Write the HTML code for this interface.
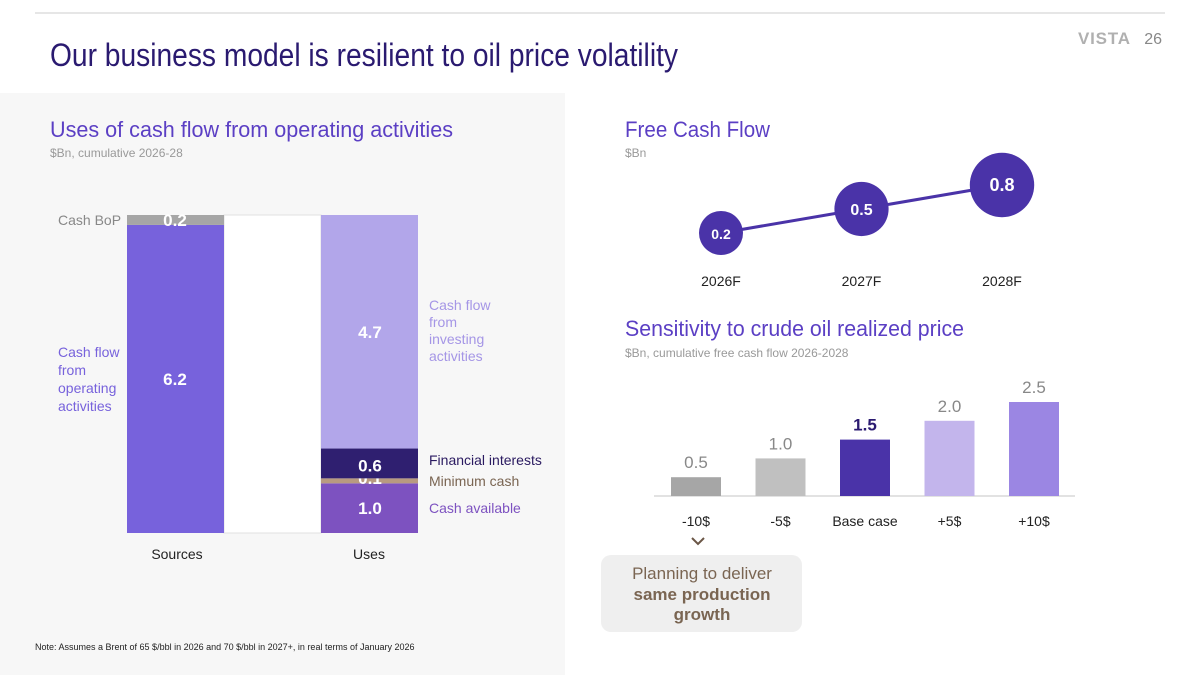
<!DOCTYPE html>
<html><head><meta charset="utf-8"><style>
html,body{margin:0;padding:0;background:#fff;}
svg{display:block;font-family:"Liberation Sans",sans-serif;}
</style></head><body>
<svg id="s" width="1200" height="675" viewBox="0 0 1200 675" xmlns="http://www.w3.org/2000/svg">
<line x1="35" y1="13" x2="1165" y2="13" stroke="#e6e6e6" stroke-width="2"/>
<text x="1130" y="44" font-size="17" font-weight="bold" fill="#b0b0b0" text-anchor="end" textLength="52">VISTA</text>
<text x="1162" y="44" font-size="16" fill="#888" text-anchor="end">26</text>
<text x="50" y="66" font-size="32" fill="#2a1a70" textLength="628" lengthAdjust="spacingAndGlyphs">Our business model is resilient to oil price volatility</text>
<rect x="0" y="93" width="565" height="582" fill="#f7f7f7"/>
<text x="50" y="137" font-size="22" fill="#5b3fc4" textLength="403" lengthAdjust="spacingAndGlyphs">Uses of cash flow from operating activities</text>
<text x="50" y="157" font-size="12" fill="#999">$Bn, cumulative 2026-28</text>
<text x="625" y="137" font-size="22" fill="#5b3fc4" textLength="145" lengthAdjust="spacingAndGlyphs">Free Cash Flow</text>
<text x="625" y="157" font-size="12" fill="#999">$Bn</text>
<text x="625" y="336" font-size="22" fill="#5b3fc4" textLength="339" lengthAdjust="spacingAndGlyphs">Sensitivity to crude oil realized price</text>
<text x="625" y="357" font-size="12" fill="#999">$Bn, cumulative free cash flow 2026-2028</text>
<g id="left"></g>
<g id="fcf"></g>
<g id="sens"></g>
<path d="M692 538 L698 544 L704 538" fill="none" stroke="#6b5646" stroke-width="2"/>
<rect x="601" y="555" width="201" height="77" rx="10" fill="#efefef"/>
<text x="702" y="579" font-size="17" fill="#7a6552" text-anchor="middle">Planning to deliver</text>
<text x="702" y="600" font-size="17" font-weight="bold" fill="#7a6552" text-anchor="middle">same production</text>
<text x="702" y="620" font-size="17" font-weight="bold" fill="#7a6552" text-anchor="middle">growth</text>
<text x="35" y="650" font-size="9" fill="#222">Note: Assumes a Brent of 65 $/bbl in 2026 and 70 $/bbl in 2027+, in real terms of January 2026</text>
</svg>
<script>
const NS="http://www.w3.org/2000/svg";
const sourceLabels=["Cash flow from operating activities","Cash BoP"];
const sourceValues=[6.2,0.2];
const useLabels=["Cash available","Minimum cash","Financial interests","Cash flow from investing activities"];
const useValues=[1.0,0.1,0.6,4.7];
const fcfYears=["2026F","2027F","2028F"];
const fcfValues=[0.2,0.5,0.8];
const sensCats=["-10$","-5$","Base case","+5$","+10$"];
const sensValues=[0.5,1.0,1.5,2.0,2.5];

function mk(p,tag,a,txt){const e=document.createElementNS(NS,tag);for(const k in a)e.setAttribute(k,a[k]);if(txt!==undefined)e.textContent=txt;p.appendChild(e);return e;}

// Left stacked chart
const L=document.getElementById('left');
const base=533, pxU=318/6.4;
const yL=v=>base-v*pxU;
const total=Math.max(sourceValues.reduce((a,b)=>a+b,0),useValues.reduce((a,b)=>a+b,0));
let w=mk(L,'rect',{x:224,y:yL(total),width:97,height:total*pxU,fill:'#fff',stroke:'#e0e0e0'});


const srcCol=['#7762dc','#a6a6a6'];
let acc=0;
sourceValues.forEach((v,i)=>{
  const r=mk(L,'rect',{x:127,y:yL(acc+v),width:97,height:v*pxU,fill:srcCol[i]});
  
  
  const t=mk(L,'text',{x:175,y:yL(acc+v/2)+6,'font-size':17,'font-weight':'bold',fill:'#fff','text-anchor':'middle'},v.toFixed(1));
  
  
  acc+=v;
});
let t1=mk(L,'text',{x:58,y:yL(acc)+10,'font-size':14,fill:'#888'},sourceLabels[1]);


["Cash flow","from","operating","activities"].forEach((s,i)=>{
  const t=mk(L,'text',{x:58,y:357+i*18,'font-size':14,fill:'#7762dc'},s);
  
  
});
const useCol=['#7d52c0','#b89a80','#2f1f70','#b2a6ea'];
acc=0;
useValues.forEach((v,i)=>{
  const r=mk(L,'rect',{x:321,y:yL(acc+v),width:97,height:v*pxU,fill:useCol[i]});
  
  
  const t=mk(L,'text',{x:370,y:yL(acc+v/2)+(i==1?3:6)+(i==2?2:0),'font-size':17,'font-weight':'bold',fill:'#fff','text-anchor':'middle'},v.toFixed(1));
  
  
  acc+=v;
});
[["Financial interests",465,'#2a1a60'],["Minimum cash",486,'#7a6552'],["Cash available",513,'#7d52c0']].forEach(a=>{
  const t=mk(L,'text',{x:429,y:a[1],'font-size':14,fill:a[2]},a[0]);
  
  
});
["Cash flow","from","investing","activities"].forEach((s,i)=>{
  const t=mk(L,'text',{x:429,y:310+i*17,'font-size':14,fill:'#a596e6'},s);
  
  
});
[["Sources",177],["Uses",369]].forEach(a=>{
  const t=mk(L,'text',{x:a[1],y:559,'font-size':14,fill:'#222','text-anchor':'middle'},a[0]);
  
  
});

// FCF bubbles
const F=document.getElementById('fcf');
const xF=i=>721+i*140.5;
const yF=v=>233-(v-0.2)*80;
const rF=v=>22+(v-0.2)*17;
const pts=fcfValues.map((v,i)=>xF(i)+','+yF(v)).join(' ');
let pl=mk(F,'polyline',{points:pts,fill:'none',stroke:'#4a33a8','stroke-width':3});


fcfValues.forEach((v,i)=>{
  const c=mk(F,'circle',{cx:xF(i),cy:yF(v),r:rF(v),fill:'#4a33a8'});
  
  
  const t=mk(F,'text',{x:xF(i),y:yF(v)+6,'font-size':14+i*2,'font-weight':'bold',fill:'#fff','text-anchor':'middle'},v.toFixed(1));
  
  
  const y=mk(F,'text',{x:xF(i),y:286,'font-size':14,fill:'#222','text-anchor':'middle'},fcfYears[i]);
  
  
});

// Sensitivity
const S=document.getElementById('sens');
const sb=496, sPx=37.6;
const xS=i=>696+i*84.5;
const yS=v=>sb-v*sPx;
const sCol=['#a6a6a6','#c0c0c0','#4a33a8','#c3b5ec','#9b86e3'];
let ax=mk(S,'line',{x1:654,y1:sb,x2:1075,y2:sb,stroke:'#d8d8d8','stroke-width':1.5});


sensValues.forEach((v,i)=>{
  const r=mk(S,'rect',{x:xS(i)-25,y:yS(v),width:50,height:v*sPx,fill:sCol[i]});
  
  
  const isB=i==2;
  const t=mk(S,'text',{x:xS(i),y:yS(v)-9,'font-size':17,'font-weight':isB?'bold':'normal',fill:isB?'#2a1a70':'#888','text-anchor':'middle'},v.toFixed(1));
  
  
  const c=mk(S,'text',{x:xS(i),y:526,'font-size':14,fill:'#222','text-anchor':'middle'},sensCats[i]);
  
  
});
</script>
</body></html>
